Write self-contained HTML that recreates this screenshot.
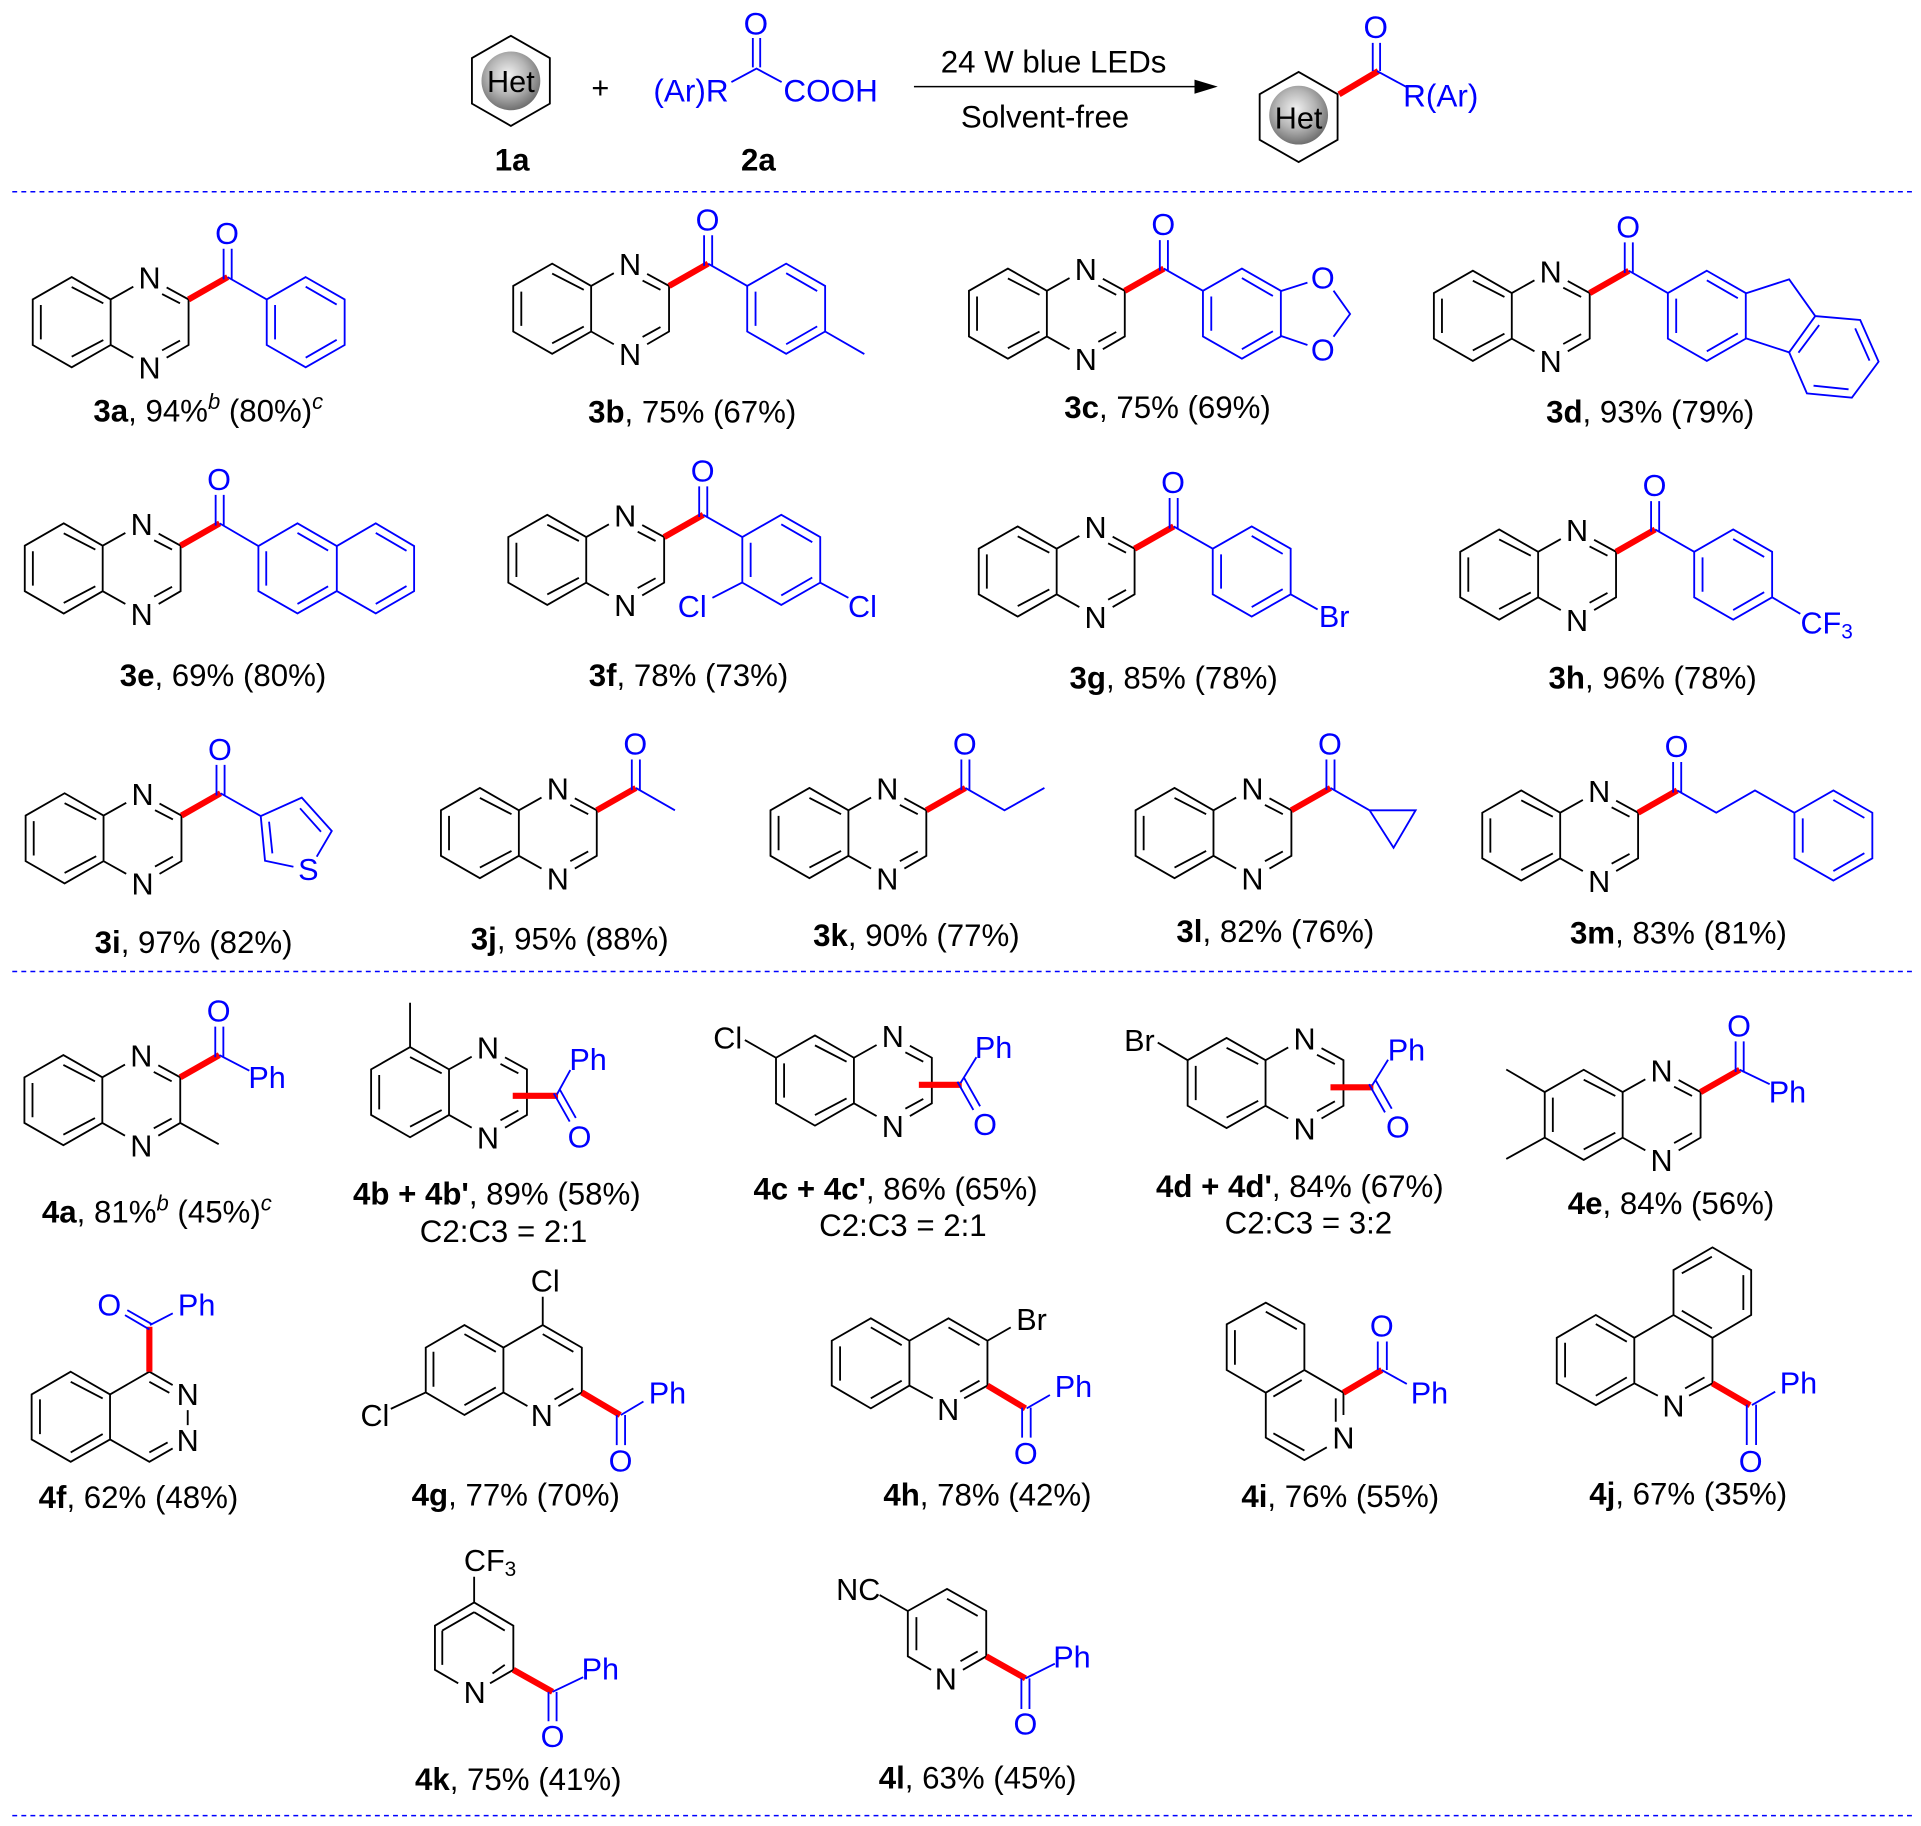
<!DOCTYPE html>
<html><head><meta charset="utf-8">
<style>
html,body{margin:0;padding:0;background:#fff}
svg{display:block}
text{font-family:"Liberation Sans",sans-serif}
.a{font-size:25px;text-anchor:middle;fill:#000}
.b{font-size:25px;text-anchor:middle;fill:#0000ff}
.t{font-size:25.5px;text-anchor:middle;fill:#000}
.u{font-size:25.7px;text-anchor:middle;fill:#0000ff}
.l{font-size:25.5px;text-anchor:middle;fill:#000}
.h{font-weight:bold}
.bk{stroke:#000;fill:none;stroke-width:1.5}
.bl{stroke:#0000ff;fill:none;stroke-width:1.5}
.rd{stroke:#ff0000;fill:none;stroke-width:5}
.ds{stroke:#0000ff;fill:none;stroke-width:1.2;stroke-dasharray:4 3.4}
</style></head><body>
<svg xmlns="http://www.w3.org/2000/svg" width="1921" height="1826" viewBox="0 0 1568 1490.5">
<defs>
<radialGradient id="ball" cx="45%" cy="40%" r="60%"><stop offset="0" stop-color="#f2f2f2"/><stop offset="0.55" stop-color="#b5b5b5"/><stop offset="1" stop-color="#707070"/></radialGradient>
<path id="q" d="M0-18.600L-31.800-36.800L-63.600-18.600V18.600L-31.800 36.800L0 18.600ZM0-18.600L18.500-29M45.700-28.400L63.600-18.600V18.600L45.700 29M18.500 29L0 18.600M-31.800-28.700L-6-15.400M-57-14V14M-31.800 28.200L-6 14.600M42-23L56.600-15.400M56.600 15L42 23"/>
<path id="p" d="M0-36.800L31.800-18.600V18.600L0 36.800L-31.800 18.600V-18.600ZM-25-14V14M0-29L25.300-14.400M0 29L25.300 14.400"/>
<path id="hx" d="M0-36.800L31.800-18.600V18.600L0 36.800L-31.800 18.600V-18.600Z"/>
<path id="ko" d="M92.200-35V-60M98.800-35V-60"/>
</defs>

<!-- header -->
<use href="#hx" x="417" y="66" class="bk"/>
<circle cx="417" cy="66" r="24" fill="url(#ball)"/>
<text class="a" x="417" y="75">Het</text>
<text class="a" x="490" y="80">+</text>
<path class="bl" d="M614.500 31V55M620.500 31V55M597 67L617.500 56L638 67"/>
<text class="u" x="617" y="28">O</text>
<text class="u" x="564" y="83">(Ar)R</text>
<text class="u" x="678" y="83">COOH</text>
<path class="bk" style="stroke-width:1.2" d="M746 70.700H978"/>
<path d="M994 70.700L975 65V76.500Z" fill="#000"/>
<text class="t" x="860" y="59">24 W blue LEDs</text>
<text class="t" x="853" y="104">Solvent-free</text>
<use href="#hx" x="1060" y="95.500" class="bk"/>
<circle cx="1060" cy="94" r="24" fill="url(#ball)"/>
<text class="a" x="1060" y="105">Het</text>
<path class="rd" d="M1093 77L1125 58"/>
<path class="bl" d="M1120.500 35V58M1126.500 35V58M1124 58L1148 71"/>
<text class="u" x="1123" y="31">O</text>
<text class="u" x="1176" y="87">R(Ar)</text>
<text class="t h" x="418" y="139">1a</text>
<text class="t h" x="619" y="139">2a</text>
<path class="ds" d="M10 156.500H1562M10 793H1562M10 1482H1562"/>

<!-- 3a -->
<g transform="translate(90.300,263)"><use href="#q" class="bk"/><text class="a" x="31.800" y="-27.400">N</text><text class="a" x="31.800" y="46">N</text><path class="rd" d="M63.600-18.600L95.500-36.800"/><use href="#ko" class="bl"/><path class="bl" d="M95.500-36.800L127.400-18.600"/><use href="#p" x="159.200" y="0" class="bl"/><text class="b" x="95" y="-64">O</text></g>
<!-- 3b -->
<g transform="translate(482.500,252)"><use href="#q" class="bk"/><text class="a" x="31.800" y="-27.400">N</text><text class="a" x="31.800" y="46">N</text><path class="rd" d="M63.600-18.600L95.500-36.800"/><use href="#ko" class="bl"/><path class="bl" d="M95.500-36.800L127.400-18.600M191 18.600L223 37"/><use href="#p" x="159.200" y="0" class="bl"/><text class="b" x="95" y="-64">O</text></g>
<!-- 3c -->
<g transform="translate(854.500,256)"><use href="#q" class="bk"/><text class="a" x="31.800" y="-27.400">N</text><text class="a" x="31.800" y="46">N</text><path class="rd" d="M63.600-18.600L95.500-36.800"/><use href="#ko" class="bl"/><path class="bl" d="M95.500-36.800L127.400-18.600M191.200-18.500L212.700-25.300M191.200 18.300L212.700 25.600M234-18.700L247.500 .3L234 18.800"/><use href="#p" x="159.200" y="0" class="bl"/><text class="b" x="95" y="-64">O</text><text class="b" x="225.200" y="-20.600">O</text><text class="b" x="225.200" y="38.400">O</text></g>
<!-- 3d -->
<g transform="translate(1234,257.800)"><use href="#q" class="bk"/><text class="a" x="31.800" y="-27.400">N</text><text class="a" x="31.800" y="46">N</text><path class="rd" d="M63.600-18.600L95.500-36.800"/><use href="#ko" class="bl"/><path class="bl" d="M95.500-36.800L127.400-18.600M191.300-18.400L226.400-29.800L247.700 .2L284.400 3.400L299.400 37.400L277.600 66.800L240.900 63.300L226.400 29.800L191.300 18.400M247.700 .2L226.400 29.800M250.900 7.500L234 30.100M280.300 10.200L292 36.600M246.300 57L274.900 60"/><use href="#p" x="159.200" y="0" class="bl"/><text class="b" x="95" y="-64">O</text></g>
<!-- 3e -->
<g transform="translate(83.800,464)"><use href="#q" class="bk"/><text class="a" x="31.800" y="-27.400">N</text><text class="a" x="31.800" y="46">N</text><path class="rd" d="M63.600-18.600L95.500-36.800"/><use href="#ko" class="bl"/><path class="bl" d="M95.500-36.800L127.100-18.300L159-36.800L191.100-18.300V18.500L159 36.700L127.100 18.500V-18.300M191.100-18.300L222.900-36.800L254.200-18.300V18.500L222.900 36.700L191.100 18.500M133.500-14V14M159-29L184-14.600M159 29L184 14.600M222.900-29L248-14.400M222.900 29L248 14.400"/><text class="b" x="95" y="-64">O</text></g>
<!-- 3f -->
<g transform="translate(478.500,457)"><use href="#q" class="bk"/><text class="a" x="31.800" y="-27.400">N</text><text class="a" x="31.800" y="46">N</text><path class="rd" d="M63.600-18.600L95.500-36.800"/><use href="#ko" class="bl"/><path class="bl" d="M95.500-36.800L127.400-18.600M127 18.600L103 31M191 18.600L214 31"/><use href="#p" x="159.200" y="0" class="bl"/><text class="b" x="95" y="-64">O</text><text class="b" x="86.500" y="46.500">Cl</text><text class="b" x="225.500" y="46.500">Cl</text></g>
<!-- 3g -->
<g transform="translate(862.500,466.500)"><use href="#q" class="bk"/><text class="a" x="31.800" y="-27.400">N</text><text class="a" x="31.800" y="46">N</text><path class="rd" d="M63.600-18.600L95.500-36.800"/><use href="#ko" class="bl"/><path class="bl" d="M95.500-36.800L127.400-18.600M191 18.600L213 31"/><use href="#p" x="159.200" y="0" class="bl"/><text class="b" x="95" y="-64">O</text><text class="b" x="226.500" y="45.500">Br</text></g>
<!-- 3h -->
<g transform="translate(1255.500,469)"><use href="#q" class="bk"/><text class="a" x="31.800" y="-27.400">N</text><text class="a" x="31.800" y="46">N</text><path class="rd" d="M63.600-18.600L95.500-36.800"/><use href="#ko" class="bl"/><path class="bl" d="M95.500-36.800L127.400-18.600M191 18.600L214 32"/><use href="#p" x="159.200" y="0" class="bl"/><text class="b" x="95" y="-64">O</text><text class="b" x="235.500" y="48">CF<tspan font-size="17" dy="4">3</tspan></text></g>
<!-- 3i -->
<g transform="translate(84.500,684.300)"><use href="#q" class="bk"/><text class="a" x="31.800" y="-27.400">N</text><text class="a" x="31.800" y="46">N</text><path class="rd" d="M63.600-18.600L95.500-36.800"/><use href="#ko" class="bl"/><path class="bl" d="M95.500-36.800L128.300-18.200L161.800-33.200L186.300-6L174 15M155 23.200L131.800 18.300L128.300-18.200M135.100-13.600L137.800 12.300M160.400-24.500L177.500-5.400"/><text class="b" x="95" y="-64">O</text><text class="b" x="167.200" y="34">S</text></g>
<!-- 3j -->
<g transform="translate(423.500,680)"><use href="#q" class="bk"/><text class="a" x="31.800" y="-27.400">N</text><text class="a" x="31.800" y="46">N</text><path class="rd" d="M63.600-18.600L95.500-36.800"/><use href="#ko" class="bl"/><path class="bl" d="M95.500-36.800L127.400-18.600"/><text class="b" x="95" y="-64">O</text></g>
<!-- 3k -->
<g transform="translate(692.500,680)"><use href="#q" class="bk"/><text class="a" x="31.800" y="-27.400">N</text><text class="a" x="31.800" y="46">N</text><path class="rd" d="M63.600-18.600L95.500-36.800"/><use href="#ko" class="bl"/><path class="bl" d="M95.500-36.800L127.400-18.600L160-36.800"/><text class="b" x="95" y="-64">O</text></g>
<!-- 3l -->
<g transform="translate(990.500,680)"><use href="#q" class="bk"/><text class="a" x="31.800" y="-27.400">N</text><text class="a" x="31.800" y="46">N</text><path class="rd" d="M63.600-18.600L95.500-36.800"/><use href="#ko" class="bl"/><path class="bl" d="M95.500-36.800L127.400-18.600H165L147 12L127.400-18.600"/><text class="b" x="95" y="-64">O</text></g>
<!-- 3m -->
<g transform="translate(1273.500,682)"><use href="#q" class="bk"/><text class="a" x="31.800" y="-27.400">N</text><text class="a" x="31.800" y="46">N</text><path class="rd" d="M63.600-18.600L95.500-36.800"/><use href="#ko" class="bl"/><path class="bl" d="M95.500-36.800L127.400-18.600L159-36.800L191-18.600"/><use href="#p" x="223" y="0" class="bl"/><text class="b" x="95" y="-64">O</text></g>

<!-- 4a -->
<g transform="translate(83.500,898)"><use href="#q" class="bk"/><text class="a" x="31.800" y="-27.400">N</text><text class="a" x="31.800" y="46">N</text><path class="rd" d="M63.600-18.600L95.500-36.800"/><use href="#ko" class="bl"/><path class="bl" d="M95.500-36.800L120-24"/><path class="bk" d="M63.600 18.600L95 36"/><text class="b" x="95" y="-64">O</text><text class="b" x="134.500" y="-10">Ph</text></g>
<!-- 4b -->
<g transform="translate(366.500,891.500)"><use href="#q" class="bk"/><text class="a" x="31.800" y="-27.400">N</text><text class="a" x="31.800" y="46">N</text><path class="bk" d="M-31.800-36.800V-73"/><path class="rd" d="M52 3H89"/><path class="bl" d="M85.500 1L98.500 24M90.500-2L103.500 21M88 2L99-18"/><text class="b" x="113.500" y="-18">Ph</text><text class="b" x="106.500" y="45">O</text></g>
<!-- 4c -->
<g transform="translate(697,882)"><use href="#q" class="bk"/><text class="a" x="31.800" y="-27.400">N</text><text class="a" x="31.800" y="46">N</text><path class="bk" d="M-63.600-18.600L-89-33"/><path class="rd" d="M53 3.500H88"/><path class="bl" d="M84.500 1L97.500 24M90-2L103 21M87 2L100-19"/><text class="b" x="114" y="-18.500">Ph</text><text class="b" x="107" y="44.500">O</text><text class="a" x="-103" y="-26">Cl</text></g>
<!-- 4d -->
<g transform="translate(1033,884)"><use href="#q" class="bk"/><text class="a" x="31.800" y="-27.400">N</text><text class="a" x="31.800" y="46">N</text><path class="bk" d="M-63.600-18.600L-88-33"/><path class="rd" d="M53 3.500H88"/><path class="bl" d="M84.500 1L97.500 24M90-2L103 21M87 2L100-19"/><text class="b" x="115" y="-18.500">Ph</text><text class="b" x="108" y="44.500">O</text><text class="a" x="-103" y="-26">Br</text></g>
<!-- 4e -->
<g transform="translate(1324.500,910)"><use href="#q" class="bk"/><text class="a" x="31.800" y="-27.400">N</text><text class="a" x="31.800" y="46">N</text><path class="bk" d="M-63.600-18.600L-95-37M-63.600 18.600L-95 36"/><path class="rd" d="M63.600-18.600L95.500-36.800"/><use href="#ko" class="bl"/><path class="bl" d="M95.500-36.800L120-25"/><text class="b" x="95" y="-64">O</text><text class="b" x="134.500" y="-10">Ph</text></g>

<!-- 4f -->
<path class="bk" d="M57.700 1119.700L89.800 1138.200V1175L57.700 1193.200L25.800 1175V1138.200ZM89.800 1138.200L121.900 1119.700L140.900 1130.600M121.900 1127.900L138.200 1136.900M89.800 1175L121.900 1193.200L140.900 1182.300M121.900 1185.600L136.800 1177.400M153.200 1151V1163.300M57.700 1127.900L83.800 1141.500M32.600 1142.300V1170.600M57.700 1185.600L83.800 1170.600"/>
<path class="rd" d="M121.900 1119.700V1083"/>
<path class="bl" d="M121.900 1085.200L102 1073.500M123.800 1080.800L103.900 1069.400M122.400 1081.600L141 1072"/>
<text class="a" x="153.200" y="1147">N</text><text class="a" x="153.200" y="1184.200">N</text>
<text class="b" x="89.200" y="1074">O</text><text class="b" x="160.500" y="1074">Ph</text>

<!-- 4g -->
<path class="bk" d="M410.900 1100L379.100 1081.600L347.500 1100V1136.600L379.100 1155L410.900 1136.600ZM410.900 1100L443 1081.600L474.900 1100V1136.600L455.800 1147.700M430.500 1147.700L410.900 1136.600M443 1089L468 1103.400M353.800 1103.400V1132M379.100 1089L404.700 1103.400M379.100 1147L404.700 1132.500M452.600 1142.300L468 1133.300M443 1081.600V1058.500M347.500 1136.600L319 1150"/>
<path class="rd" d="M474.900 1136.600L506.200 1155"/><path class="bl" d="M503.400 1155V1179.600M510.200 1155V1179.600M506.800 1155L525.200 1144"/>
<text class="a" x="442.200" y="1164">N</text><text class="a" x="445" y="1054.400">Cl</text><text class="a" x="306" y="1164">Cl</text><text class="b" x="506.500" y="1201">O</text><text class="b" x="544.800" y="1145.500">Ph</text>

<!-- 4h -->
<path class="bk" d="M742.300 1094.400L710.800 1076.100L678.900 1094.400V1131L710.800 1149.600L742.300 1131ZM742.300 1094.400L774.200 1076.100L806 1094.400V1131L787 1141.400M761.400 1141.400L742.300 1131M774.200 1083.500L799.500 1098M685.700 1099V1127M710.800 1083.500L736 1098M710.800 1141.400L736 1127M783.700 1136L799.500 1127M806 1094.400L825 1083.500"/>
<path class="rd" d="M806 1131L837 1149.600"/><path class="bl" d="M834.300 1149V1173.500M841.300 1149V1173.500M838 1149.600L857 1138.700"/>
<text class="a" x="774" y="1159">N</text><text class="a" x="842" y="1085.500">Br</text><text class="b" x="837.300" y="1195">O</text><text class="b" x="876.200" y="1140.500">Ph</text>

<!-- 4i -->
<path class="bk" d="M1033.200 1063.300L1064.700 1081V1118.300L1033.200 1136.800L1001.300 1118.300V1081ZM1064.700 1118.300L1096.600 1136.800V1155M1083 1181.400L1064.700 1191.800L1033.200 1173.500V1136.800M1033.200 1070.700L1058.500 1085M1008 1085.700V1114M1039.400 1140L1062.500 1126.500M1039.400 1170L1064.700 1184M1090.300 1141.400V1160.500"/>
<path class="rd" d="M1096.600 1136.800L1127.900 1118.300"/><path class="bl" d="M1124.600 1118.300V1095M1132 1118.300V1095M1127.900 1118.300L1148.300 1129.700"/>
<text class="a" x="1096.600" y="1182.300">N</text><text class="b" x="1127.900" y="1091">O</text><text class="b" x="1166.800" y="1145.500">Ph</text>

<!-- 4j -->
<path class="bk" d="M1397.800 1018.200L1429.400 1036.700V1073.400L1397.800 1092L1366 1073.400V1036.700ZM1366 1073.400L1334 1092L1302.600 1073.400L1270.700 1092V1129.200L1302.600 1146.900L1334 1129.200V1092M1397.800 1092V1129.200L1378.700 1139.300M1353.200 1139.300L1334 1129.200M1372.800 1039.400L1397.300 1025.800M1423 1040.800V1069.300M1372.800 1069.900L1397.300 1084.300M1302.600 1080.800L1327.900 1095.200M1277.500 1096V1124.300M1302.600 1139.300L1327.900 1124.300M1375.500 1133.300L1391.300 1124.300"/>
<path class="rd" d="M1397.800 1129.200L1428.500 1147"/><path class="bl" d="M1425.800 1146.500V1179.500M1433.400 1146.500V1179.500M1430 1146.900L1449 1136"/>
<text class="a" x="1366" y="1156.400">N</text><text class="b" x="1429" y="1201.500">O</text><text class="b" x="1468" y="1137.500">Ph</text>

<!-- 4k -->
<path class="bk" d="M387 1308L355 1327V1363L374 1374M400 1374L419 1363V1327L387 1308M387 1316L412 1331M412 1359L402 1366M361 1331L387 1316M361 1331V1359M387 1308V1287"/>
<path class="rd" d="M419 1363L451 1381"/><path class="bl" d="M447.700 1381V1405M454.300 1381V1405M451 1381L476 1369"/>
<text class="a" x="387.500" y="1390">N</text><text class="a" x="400" y="1282.500">CF<tspan font-size="17" dy="4">3</tspan></text><text class="b" x="451" y="1426">O</text><text class="b" x="490" y="1371">Ph</text>

<!-- 4l -->
<path class="bk" d="M741 1315L773 1297L805 1315V1352L786 1363M760 1363L741 1352V1315M773 1305L798 1319M798 1348L784 1356M748 1320V1347M741 1315L718 1302"/>
<path class="rd" d="M805 1352L837 1370"/><path class="bl" d="M833.700 1370V1395M840.300 1370V1395M837 1370L861 1358"/>
<text class="a" x="772" y="1379">N</text><text class="a" x="700.500" y="1306">NC</text><text class="b" x="837" y="1416">O</text><text class="b" x="875" y="1361">Ph</text>

<!-- labels -->
<text class="l" x="170" y="344"><tspan class="h">3a</tspan>, 94%<tspan font-size="18" font-style="italic" dy="-10">b</tspan><tspan dy="10"> (80%)</tspan><tspan font-size="18" font-style="italic" dy="-10">c</tspan></text>
<text class="l" x="565" y="345"><tspan class="h">3b</tspan>, 75% (67%)</text>
<text class="l" x="953" y="341"><tspan class="h">3c</tspan>, 75% (69%)</text>
<text class="l" x="1347" y="345"><tspan class="h">3d</tspan>, 93% (79%)</text>
<text class="l" x="182" y="560"><tspan class="h">3e</tspan>, 69% (80%)</text>
<text class="l" x="562" y="560"><tspan class="h">3f</tspan>, 78% (73%)</text>
<text class="l" x="958" y="562"><tspan class="h">3g</tspan>, 85% (78%)</text>
<text class="l" x="1349" y="562"><tspan class="h">3h</tspan>, 96% (78%)</text>
<text class="l" x="158" y="778"><tspan class="h">3i</tspan>, 97% (82%)</text>
<text class="l" x="465" y="775"><tspan class="h">3j</tspan>, 95% (88%)</text>
<text class="l" x="748" y="772"><tspan class="h">3k</tspan>, 90% (77%)</text>
<text class="l" x="1041" y="769"><tspan class="h">3l</tspan>, 82% (76%)</text>
<text class="l" x="1370" y="770"><tspan class="h">3m</tspan>, 83% (81%)</text>
<text class="l" x="128" y="998"><tspan class="h">4a</tspan>, 81%<tspan font-size="18" font-style="italic" dy="-10">b</tspan><tspan dy="10"> (45%)</tspan><tspan font-size="18" font-style="italic" dy="-10">c</tspan></text>
<text class="l" x="405.500" y="983"><tspan class="h">4b + 4b'</tspan>, 89% (58%)</text>
<text class="l" x="411" y="1014">C2:C3 = 2:1</text>
<text class="l" x="731" y="979"><tspan class="h">4c + 4c'</tspan>, 86% (65%)</text>
<text class="l" x="737" y="1009">C2:C3 = 2:1</text>
<text class="l" x="1061" y="977"><tspan class="h">4d + 4d'</tspan>, 84% (67%)</text>
<text class="l" x="1068" y="1007">C2:C3 = 3:2</text>
<text class="l" x="1364" y="991"><tspan class="h">4e</tspan>, 84% (56%)</text>
<text class="l" x="113" y="1231"><tspan class="h">4f</tspan>, 62% (48%)</text>
<text class="l" x="421" y="1229"><tspan class="h">4g</tspan>, 77% (70%)</text>
<text class="l" x="806" y="1229"><tspan class="h">4h</tspan>, 78% (42%)</text>
<text class="l" x="1094" y="1230"><tspan class="h">4i</tspan>, 76% (55%)</text>
<text class="l" x="1378" y="1228"><tspan class="h">4j</tspan>, 67% (35%)</text>
<text class="l" x="423" y="1461"><tspan class="h">4k</tspan>, 75% (41%)</text>
<text class="l" x="798" y="1460"><tspan class="h">4l</tspan>, 63% (45%)</text>
</svg>
</body></html>
